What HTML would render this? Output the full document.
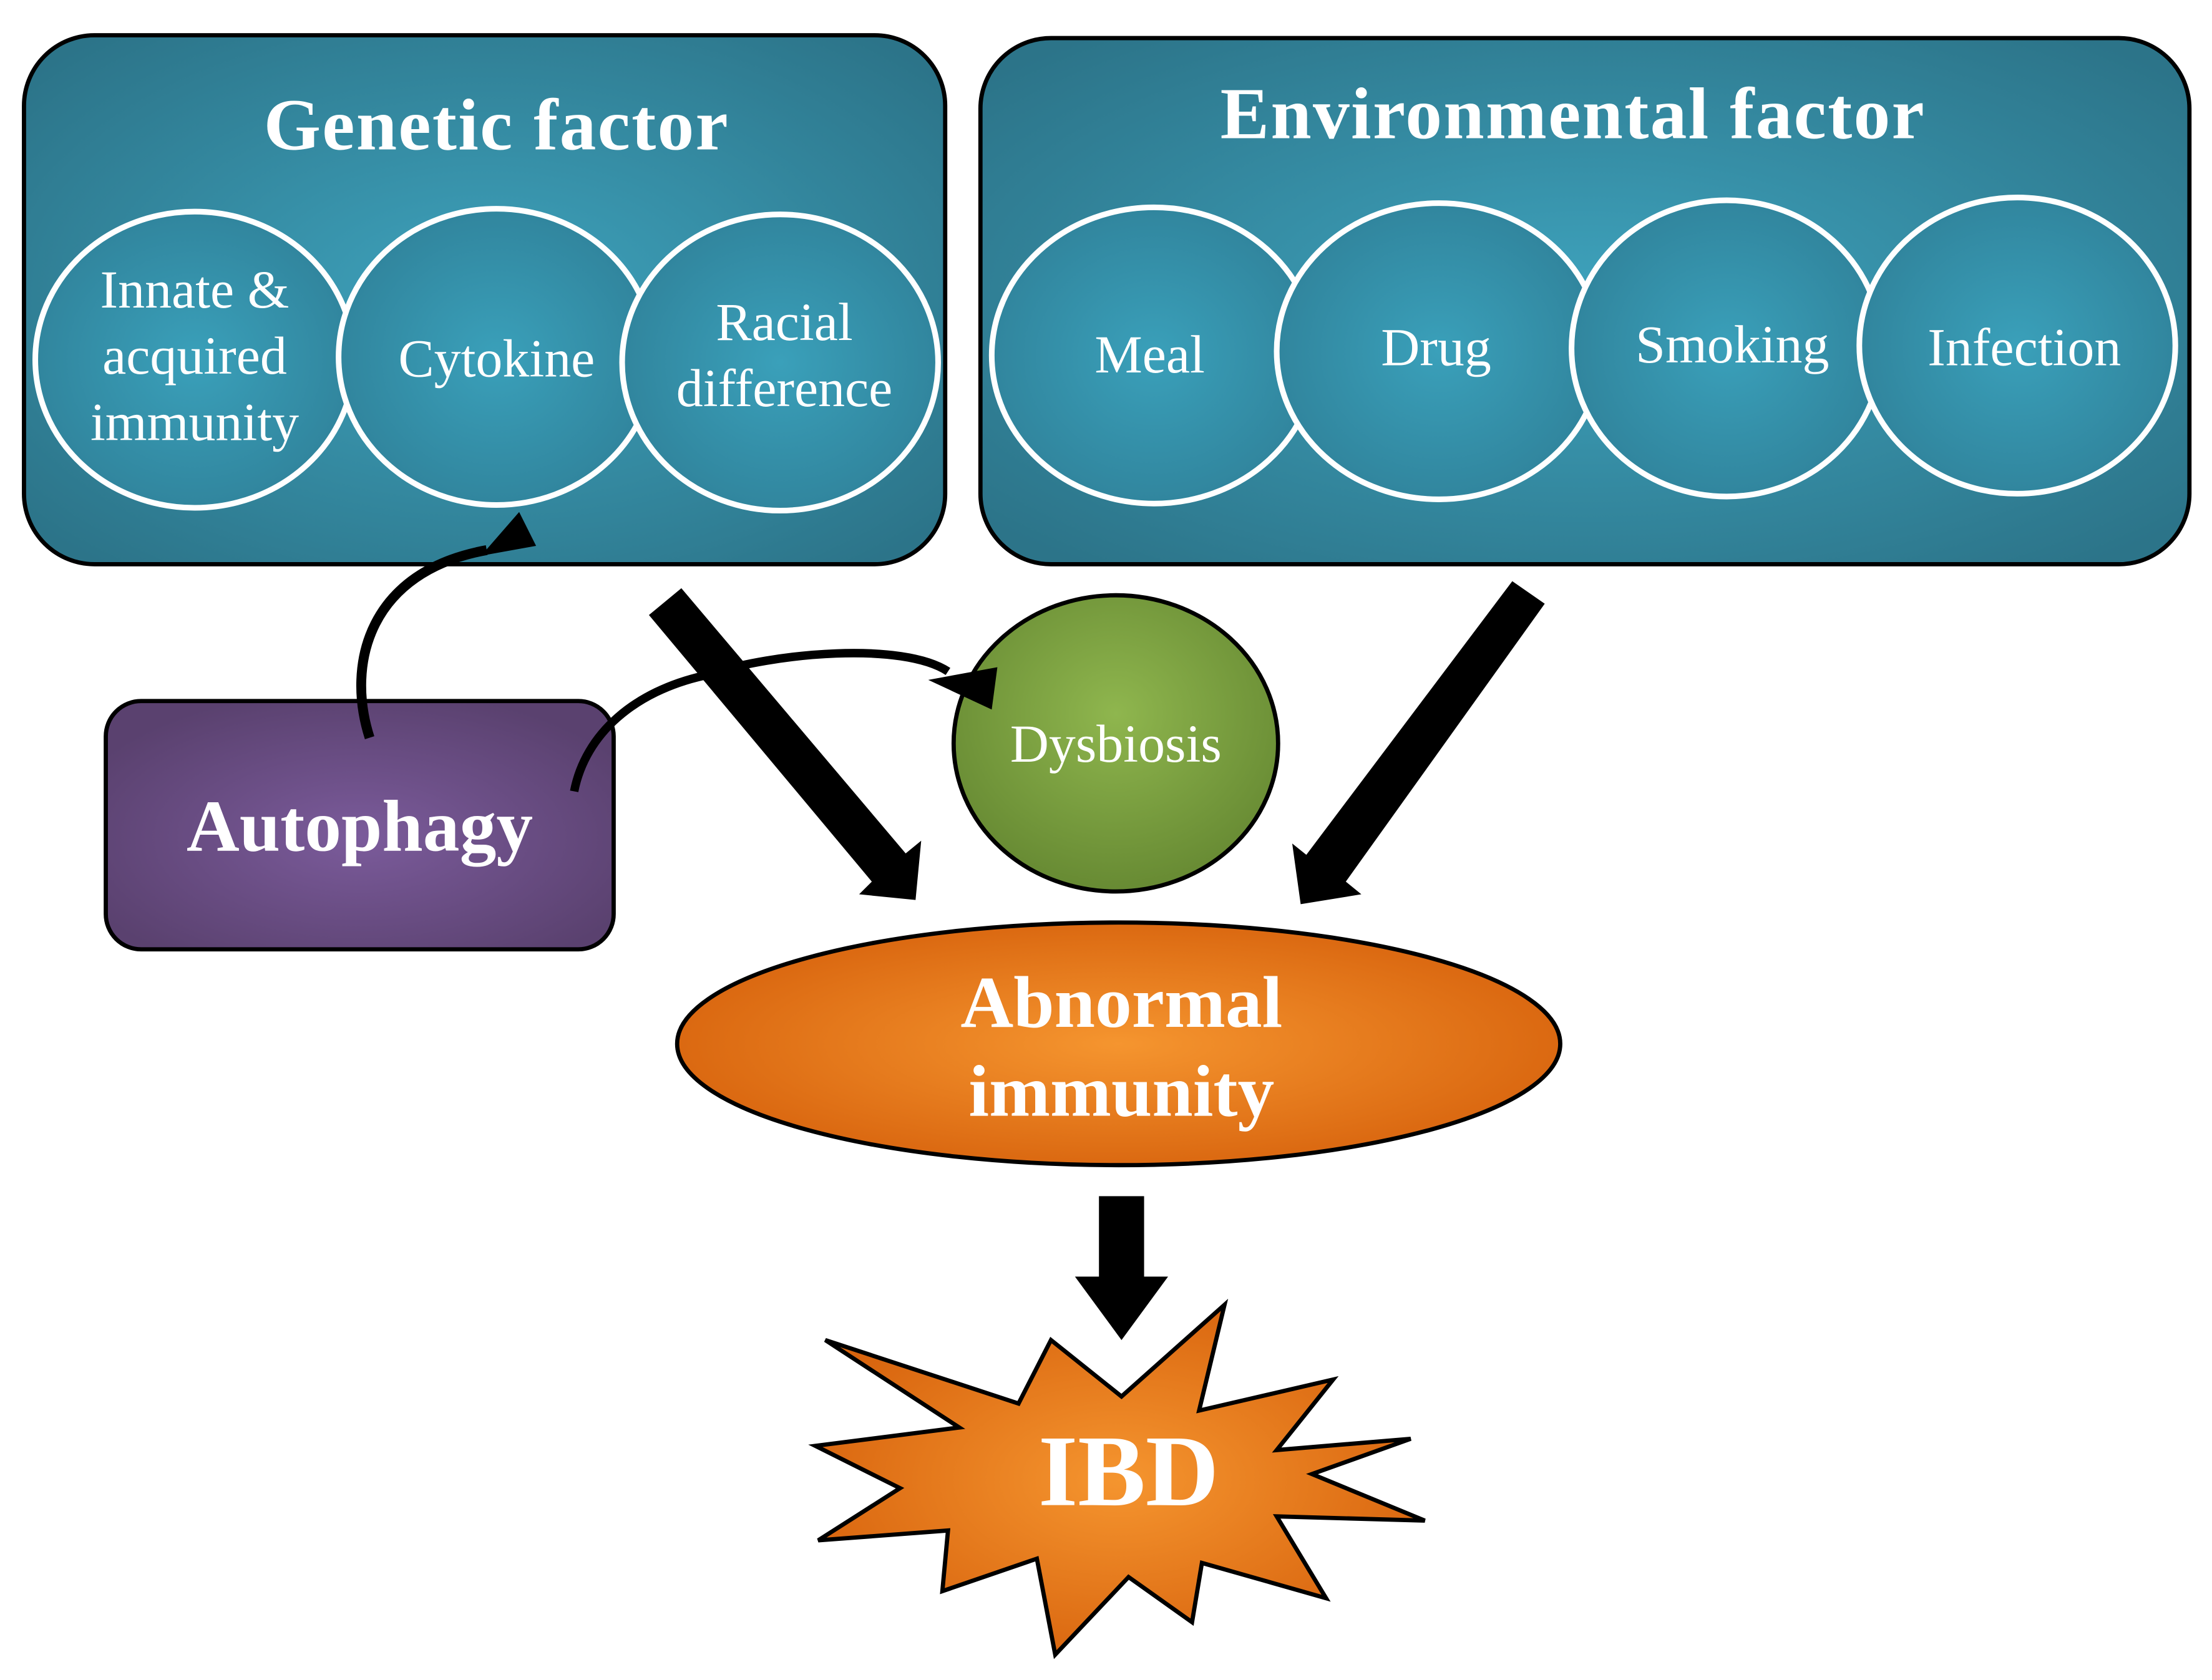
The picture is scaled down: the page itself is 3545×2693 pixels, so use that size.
<!DOCTYPE html>
<html><head><meta charset="utf-8"><style>html,body{margin:0;padding:0;background:#fff}svg{display:block}</style></head>
<body>
<svg width="3545" height="2693" viewBox="0 0 1568 1191" preserveAspectRatio="none" xmlns="http://www.w3.org/2000/svg" font-family="'Liberation Serif', serif">
<defs>
<radialGradient id="teal" cx="50%" cy="50%" r="65%"><stop offset="0" stop-color="#3ea3bd"/><stop offset="1" stop-color="#2c7489"/></radialGradient>
<radialGradient id="teal2" cx="50%" cy="50%" r="60%"><stop offset="0" stop-color="#3aa0ba"/><stop offset="1" stop-color="#2f8098"/></radialGradient>
<radialGradient id="purple" cx="50%" cy="55%" r="60%"><stop offset="0" stop-color="#7b5b9b"/><stop offset="1" stop-color="#5a416f"/></radialGradient>
<radialGradient id="green" cx="50%" cy="40%" r="60%"><stop offset="0" stop-color="#8fb64e"/><stop offset="1" stop-color="#678a33"/></radialGradient>
<radialGradient id="orange" cx="50%" cy="50%" r="55%"><stop offset="0" stop-color="#f5952f"/><stop offset="1" stop-color="#d8640e"/></radialGradient>
</defs>
<rect x="17" y="25" width="653" height="375" rx="50" fill="url(#teal)" stroke="#000" stroke-width="3"/>
<text x="352" y="106" text-anchor="middle" font-size="52" font-weight="bold" fill="#fff" letter-spacing="1">Genetic factor</text>
<g fill="url(#teal2)" stroke="#fff" stroke-width="4">
<ellipse cx="138" cy="255" rx="113" ry="105"/>
<ellipse cx="352" cy="253" rx="112" ry="105"/>
<ellipse cx="553" cy="257" rx="112" ry="105"/>
</g>
<g fill="#fff" font-size="38" text-anchor="middle">
<text x="138" y="218">Innate &amp;</text><text x="138" y="265">acquired</text><text x="138" y="312">immunity</text>
<text x="352" y="267">Cytokine</text>
<text x="556" y="241">Racial</text><text x="556" y="288">difference</text>
</g>
<rect x="695" y="27" width="857" height="373" rx="50" fill="url(#teal)" stroke="#000" stroke-width="3"/>
<text x="1115" y="98" text-anchor="middle" font-size="52" font-weight="bold" fill="#fff" letter-spacing="1">Environmental factor</text>
<g fill="url(#teal2)" stroke="#fff" stroke-width="4">
<ellipse cx="818" cy="252" rx="115" ry="105"/>
<ellipse cx="1020" cy="249" rx="115" ry="105"/>
<ellipse cx="1224" cy="247" rx="110" ry="105"/>
<ellipse cx="1430" cy="245" rx="112" ry="105"/>
</g>
<g fill="#fff" font-size="38" text-anchor="middle">
<text x="815" y="264">Meal</text><text x="1018" y="259">Drug</text><text x="1228" y="257">Smoking</text><text x="1435" y="259">Infection</text>
</g>
<rect x="75" y="497" width="360" height="176" rx="25" fill="url(#purple)" stroke="#000" stroke-width="3"/>
<text x="255" y="603" text-anchor="middle" font-size="52" font-weight="bold" fill="#fff">Autophagy</text>
<ellipse cx="791" cy="527" rx="115" ry="105" fill="url(#green)" stroke="#000" stroke-width="3"/>
<text x="791" y="540" text-anchor="middle" font-size="38" fill="#fff">Dysbiosis</text>
<!-- curved arrows -->
<path d="M262,523 C245,470 262,405 345,390" fill="none" stroke="#000" stroke-width="7"/>
<polygon points="341,394 380,387 368,363" fill="#000"/>
<path d="M407,561 C415,520 450,490 499,479 C550,462 640,455 672,476" fill="none" stroke="#000" stroke-width="6"/>
<polygon points="658,482 707,473 703,503" fill="#000"/>
<!-- big arrows -->
<polygon points="483,417 642,605 653,596 649,638 609,634 618,625 460,436" fill="#000"/>
<polygon points="1072,412 1095,428 954,625 965,634 922,641 916,598 926,606" fill="#000"/>
<ellipse cx="793" cy="740" rx="313" ry="86" fill="url(#orange)" stroke="#000" stroke-width="3"/>
<text x="795" y="728" text-anchor="middle" font-size="52" font-weight="bold" fill="#fff">Abnormal</text>
<text x="795" y="791" text-anchor="middle" font-size="52" font-weight="bold" fill="#fff">immunity</text>
<rect x="779" y="848" width="32" height="60" fill="#000"/>
<polygon points="762,905 828,905 795,950" fill="#000"/>
<polygon points="585,950 722,995 745,950 795,990 868,925 850,1000 945,978 905,1028 1000,1020 930,1045 1010,1078 905,1075 940,1133 852,1108 845,1150 800,1118 748,1173 735,1105 668,1128 672,1085 580,1092 638,1055 578,1025 680,1012" fill="url(#orange)" stroke="#000" stroke-width="3"/>
<text x="800" y="1067" text-anchor="middle" font-size="72" font-weight="bold" fill="#fff">IBD</text>
</svg>
</body></html>
